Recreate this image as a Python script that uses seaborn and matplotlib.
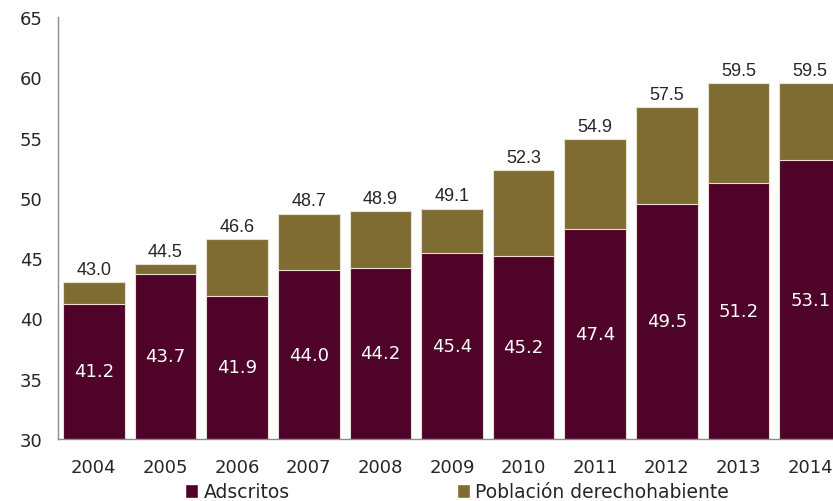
import matplotlib; matplotlib.use("Agg")
import numpy as np
import pandas as pd
import matplotlib.pyplot as plt
import seaborn as sns
from matplotlib.patches import Patch

years = ["2004", "2005", "2006", "2007", "2008", "2009", "2010", "2011", "2012", "2013", "2014"]
adscritos = [41.2, 43.7, 41.9, 44.0, 44.2, 45.4, 45.2, 47.4, 49.5, 51.2, 53.1]
total = [43.0, 44.5, 46.6, 48.7, 48.9, 49.1, 52.3, 54.9, 57.5, 59.5, 59.5]

MAROON = "#4f0328"
GOLD = "#7f6c33"
GRAY = "#8c8c8c"

df = pd.DataFrame({"year": years, "adscritos": adscritos, "total": total})

sns.set_style("white")
plt.rcParams["font.family"] = ["DejaVu Sans"]

W, H = 833, 502
fig = plt.figure(figsize=(W / 100, H / 100), dpi=100)
ax = fig.add_axes([58 / W, 62 / H, 788 / W, 422 / H])

sns.barplot(data=df, x="year", y="total", color=GOLD, saturation=1, width=0.86,
            edgecolor="#e8e0d0", linewidth=0.8, ax=ax)
sns.barplot(data=df, x="year", y="adscritos", color=MAROON, saturation=1, width=0.86,
            edgecolor="#e8e0d0", linewidth=0.8, ax=ax)

ymin = 30
ax.set_ylim(ymin, 65)
ax.set_xlim(-0.5, len(years) - 0.5)
ax.set_yticks(range(30, 66, 5))
ax.set_xlabel(""); ax.set_ylabel("")

for i, (a, t) in enumerate(zip(adscritos, total)):
    ax.text(i, (ymin + a) / 2, f"{a:.1f}", color="white", ha="center", va="center",
            fontsize=13)
    ax.text(i, t + 0.35, f"{t:.1f}", color="#262626", ha="center", va="bottom",
            fontsize=13, family="Liberation Sans")

# Excel-style ticks at category boundaries
ax.set_xticks(np.arange(-0.5, len(years), 1), minor=False)
ax.set_xticklabels([])
ax.set_xticks(range(len(years)), minor=True)
ax.set_xticklabels(years, minor=True)
ax.tick_params(axis="x", which="major", direction="out", length=6, color=GRAY, width=1)
ax.tick_params(axis="x", which="minor", length=0, pad=14, labelsize=13, labelcolor="#262626")
ax.tick_params(axis="y", direction="out", length=5, color=GRAY, width=1, pad=6,
               labelsize=13, labelcolor="#262626")

for s in ["top", "right"]:
    ax.spines[s].set_visible(False)
for s in ["left", "bottom"]:
    ax.spines[s].set_color(GRAY)
    ax.spines[s].set_linewidth(1)

handles = [Patch(facecolor=MAROON, label="Adscritos"),
           Patch(facecolor=GOLD, label="Población derechohabiente")]
fig.legend(handles=handles, loc="lower left", bbox_to_anchor=(168 / W, -0.034), ncol=2,
           frameon=False, fontsize=13.5, handlelength=0.7, handleheight=0.8,
           handletextpad=0.3, columnspacing=8.9)

fig.savefig("out.png", dpi=100)
